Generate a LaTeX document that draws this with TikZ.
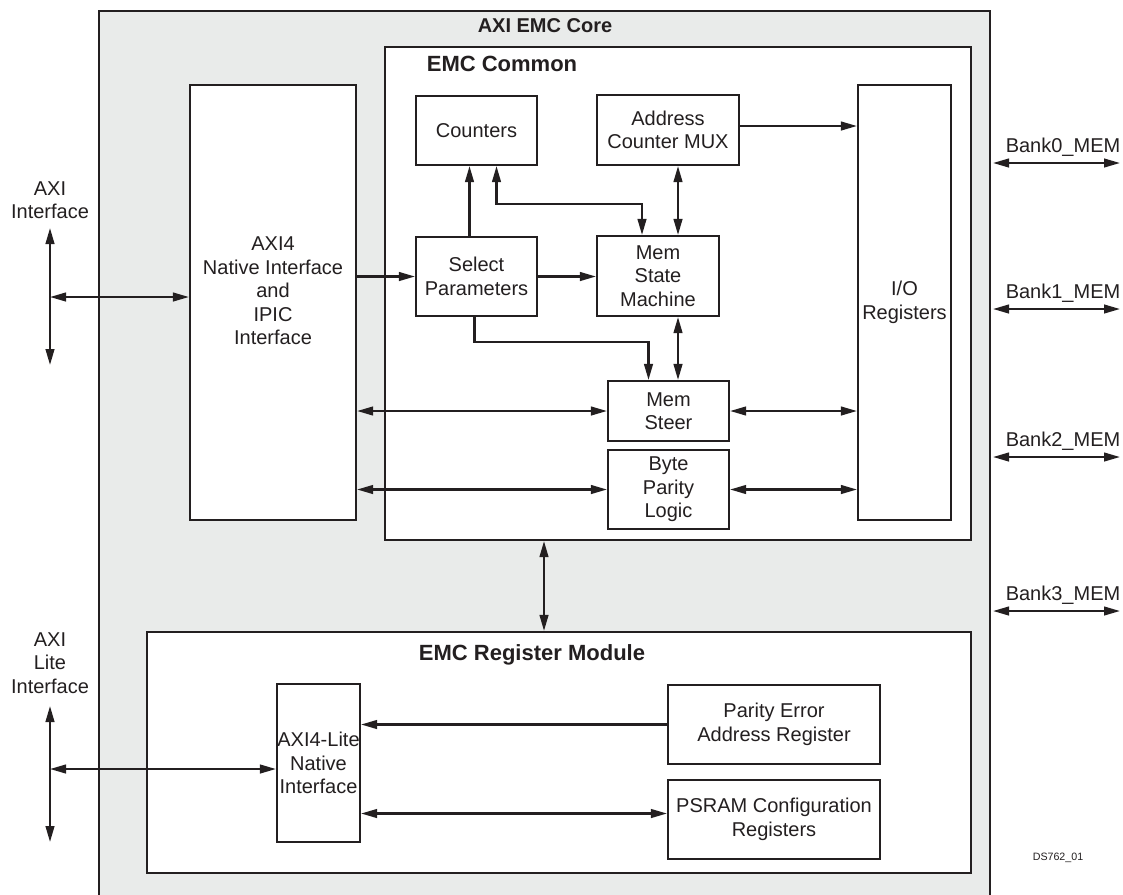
\documentclass[tikz,border=0pt]{standalone}
\usepackage{fontspec}
\setmainfont{Liberation Sans}
\usetikzlibrary{arrows.meta,calc}
\definecolor{ink}{HTML}{231F20}
\definecolor{bg}{HTML}{E9EBEA}
\begin{document}
\begin{tikzpicture}[x=0.75pt,y=-0.75pt,
  every node/.style={font=\fontsize{15}{17.6}\selectfont, text=ink},
  box/.style={draw=ink, line width=1.6pt, fill=white, inner sep=0pt, align=center},
  rect/.style n args={4}{minimum width={(#3-#1)*0.75pt}, minimum height={(#4-#2)*0.75pt}, at={({(#1+#3)/2},{(#2+#4)/2})}},
  title/.style={font=\bfseries\fontsize{16.5}{19}\selectfont, inner sep=0pt},
  lbl/.style={align=center, inner sep=0pt},
  conn/.style={draw=ink, line width=1.6pt, -{Triangle[length=12pt,width=6.5pt]}},
  bi/.style={draw=ink, line width=1.6pt, {Triangle[length=12pt,width=6.5pt]}-{Triangle[length=12pt,width=6.5pt]}}
]
\useasboundingbox (0,0) rectangle (1123,894);
% containers
\node[box, rect={99}{11}{990}{900}, fill=bg] (core) {};
\node[title, font=\bfseries\fontsize{15}{17}\selectfont] (coret) at (545,26) {AXI EMC Core};
\node[box, rect={385}{47}{971}{540}] (emc) {};
\node[title] (emct) at (502,64) {EMC Common};
\node[box, rect={147}{632}{971}{873}] (reg) {};
\node[title] (regt) at (532,655) {EMC Register Module};
% blocks
\node[box, rect={190}{85}{356}{520}] (axi4) {};
\node[lbl] (axi4t) at (273,291) {AXI4\\Native Interface\\and\\IPIC\\Interface};
\node[box, rect={416}{96}{537}{165}] (counters) {Counters};
\node[box, rect={597}{95}{739}{165}] (amux) {Address\\Counter MUX};
\node[box, rect={858}{85}{951}{520}] (io) {I/O\\Registers};
\node[box, rect={416}{237}{537}{316}] (selp) {Select\\Parameters};
\node[box, rect={597}{236}{719}{316}] (msm) {Mem\\State\\Machine};
\node[box, rect={608}{381}{729}{441}] (steer) {Mem\\Steer};
\node[box, rect={608}{450}{729}{529}] (bpl) {Byte\\Parity\\Logic};
\node[box, rect={277}{684}{360}{842}] (lite) {AXI4-Lite\\Native\\Interface};
\node[box, rect={668}{685}{880}{764}] (perr) {Parity Error\\Address Register};
\node[box, rect={668}{780}{880}{859}] (psram) {PSRAM Configuration\\Registers};
% helper coordinates
\coordinate (amuxo) at ($(amux.east)+(0,-4)$);
\coordinate (msmo) at ($(msm.south)+(20,0)$);
\coordinate (rego) at ($(reg.north)+(-15,0)$);
\coordinate (psro) at ($(psram.west)+(0,-6)$);
\coordinate (selpu) at ($(selp.north)+(-7,0)$);
% internal connectors
\draw[conn] (selp.west -| axi4.east) -- (selp.west);
\draw[conn] (selp.east) -- (selp.east -| msm.west);
\draw[conn] (selpu) -- (selpu |- counters.south);
\draw[bi] ($(counters.south)+(20,0)$) -- ++(0,38) -| ($(msm.north)+(-16,0)$);
\draw[bi] ($(amux.south)+(10,0)$) -- ($(msm.north)+(20,0)$);
\draw[conn] (amuxo) -- (amuxo -| io.west);
\draw[conn] ($(selp.south)+(-2,0)$) -- ++(0,25) -| ($(steer.north)+(-20,0)$);
\draw[bi] (msmo) -- (msmo |- steer.north);
\draw[bi] (steer.west -| axi4.east) -- (steer.west);
\draw[bi] (steer.east) -- (steer.east -| io.west);
\draw[bi] (bpl.west -| axi4.east) -- (bpl.west);
\draw[bi] (bpl.east) -- (bpl.east -| io.west);
\draw[bi] (rego) -- (rego |- emc.south);
\draw[conn] (perr.west) -- (perr.west -| lite.east);
\draw[bi] (psro) -- (psro -| lite.east);
% AXI interface
\node[lbl] (axil) at (50,200) {AXI\\Interface};
\coordinate (a1t) at (50,228);
\coordinate (a1b) at (50,365);
\coordinate (a1m) at (50,297);
\draw[bi] (a1t) -- (a1b);
\draw[bi] (a1m) -- (a1m -| axi4.west);
% AXI Lite interface
\node[lbl] (axill) at (50,663) {AXI\\Lite\\Interface};
\coordinate (a2t) at (50,706);
\coordinate (a2b) at (50,842);
\coordinate (a2m) at (50,769);
\draw[bi] (a2t) -- (a2b);
\draw[bi] (a2m) -- (a2m -| lite.west);
% banks
\foreach \n/\y in {0/163,1/309,2/457,3/611}{
  \coordinate (b\n l) at (993,\y);
  \coordinate (b\n r) at (1120,\y);
  \draw[bi] (b\n l) -- (b\n r);
  \node[inner sep=0pt] (b\n t) at (1063,\y-16) {Bank\n\_MEM};
}
\node[font=\fontsize{8}{9}\selectfont, inner sep=0pt] (ds) at (1058,858) {DS762\_01};
\end{tikzpicture}
\end{document}
